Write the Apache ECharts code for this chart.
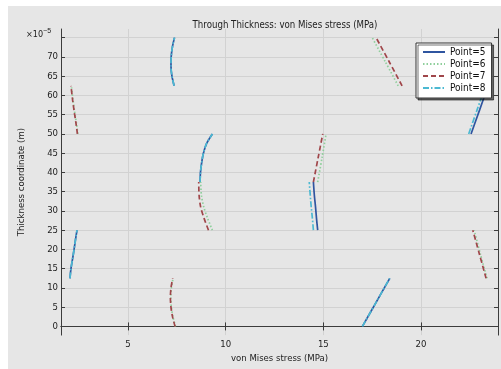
<!DOCTYPE html>
<html>
<head>
<meta charset="utf-8">
<script src="https://cdn.jsdelivr.net/npm/echarts@6/dist/echarts.min.js"></script>
<style>
  html, body { margin: 0; padding: 0; background: #ffffff; }
  #chart { width: 501px; height: 369px; }
</style>
</head>
<body>
<div id="chart"></div>
<script>
// tick values (axes)
const xTicks = [5, 10, 15, 20]
const yTicks = [0, 5, 10, 15, 20, 25, 30, 35, 40, 45, 50, 55, 60, 65, 70, 75]
const yLabels = [0, 5, 10, 15, 20, 25, 30, 35, 40, 45, 50, 55, 60, 65, 70]

// one curve per layer: [stress (MPa), thickness (1e-5 m)]
const point5 = [
  [[17.0, 0], [17.7, 6.25], [18.4, 12.5]],
  [[2.03, 12.5], [2.08, 15], [2.16, 17.5], [2.24, 20], [2.31, 22.5], [2.39, 25]],
  [[14.71, 25], [14.65, 28], [14.6, 31], [14.54, 34], [14.49, 37.5]],
  [[8.69, 37.5], [8.71, 40], [8.77, 42.5], [8.86, 45], [9.02, 47.5], [9.32, 50]],
  [[22.56, 50], [23.0, 56.25], [23.43, 62.5]],
  [[7.36, 62.5], [7.25, 65], [7.2, 67.5], [7.21, 70], [7.27, 72.5], [7.38, 75]]
]
const point6 = [
  [[7.43, 0], [7.3, 2.5], [7.22, 5], [7.19, 7.5], [7.22, 10], [7.31, 12.5]],
  [[23.38, 12.5], [23.04, 18.75], [22.72, 25]],
  [[9.32, 25], [9.08, 28], [8.88, 31], [8.76, 34], [8.72, 37.5]],
  [[14.71, 37.5], [14.93, 43.75], [15.14, 50]],
  [[2.43, 50], [2.35, 53], [2.26, 56], [2.18, 59], [2.1, 62.5]],
  [[18.83, 62.5], [18.17, 68.75], [17.5, 75]]
]
const point7 = [
  [[7.41, 0], [7.28, 2.5], [7.2, 5], [7.17, 7.5], [7.2, 10], [7.29, 12.5]],
  [[23.33, 12.5], [22.99, 18.75], [22.65, 25]],
  [[9.12, 25], [8.9, 28], [8.72, 31], [8.64, 34], [8.62, 37.5]],
  [[14.49, 37.5], [14.73, 43.75], [14.97, 50]],
  [[2.41, 50], [2.33, 53], [2.24, 56], [2.16, 59], [2.08, 62.5]],
  [[19.03, 62.5], [18.37, 68.75], [17.7, 75]]
]
const point8 = [
  [[17.0, 0], [17.7, 6.25], [18.4, 12.5]],
  [[2.03, 12.5], [2.08, 15], [2.16, 17.5], [2.24, 20], [2.31, 22.5], [2.39, 25]],
  [[14.49, 25], [14.44, 28], [14.38, 31], [14.33, 34], [14.28, 37.5]],
  [[8.69, 37.5], [8.71, 40], [8.77, 42.5], [8.86, 45], [9.02, 47.5], [9.32, 50]],
  [[22.44, 50], [22.87, 56.25], [23.3, 62.5]],
  [[7.36, 62.5], [7.25, 65], [7.2, 67.5], [7.21, 70], [7.27, 72.5], [7.38, 75]]
]

const FONT = 'DejaVu Sans Condensed, DejaVu Sans, sans-serif'

// join layer curves with an empty point so that they stay apart
function joinLayers (layers) {
  const out = []
  layers.forEach((seg, i) => {
    if (i > 0) out.push(['-', '-'])
    seg.forEach(p => out.push(p))
  })
  return out
}

function lineSeries (name, layers, color, type) {
  return {
    name,
    type: 'line',
    data: joinLayers(layers),
    showSymbol: false,
    symbol: 'none',
    smooth: 0.3,
    connectNulls: false,
    lineStyle: { color, width: 1.7, type },
    itemStyle: { color },
    emphasis: { disabled: true }
  }
}

const axisLineStyle = { lineStyle: { color: '#3c3c3c', width: 1 } }
const tickStyle = { inside: true, length: 4, lineStyle: { color: '#3c3c3c' } }

const chart = echarts.init(document.getElementById('chart'), null, { renderer: 'canvas' })
chart.setOption({
  animation: false,
  backgroundColor: '#ffffff',
  textStyle: { fontFamily: FONT },
  graphic: [
    { type: 'rect', z: -10, silent: true, shape: { x: 8, y: 6, width: 501, height: 369 }, style: { fill: '#e6e6e6' } },
    {
      type: 'text', left: 26, top: 28, z: 10,
      style: {
        text: '×10{s|−5}',
        font: '9px ' + FONT,
        fill: '#222',
        rich: { s: { fontSize: 7, verticalAlign: 'top', padding: [0, 0, 6, 0] } }
      }
    }
  ],
  title: {
    text: 'Through Thickness: von Mises stress (MPa)',
    left: 280,
    textAlign: 'center',
    top: 15,
    textStyle: { fontFamily: FONT, fontSize: 9.6, fontWeight: 'normal', color: '#222' }
  },
  legend: {
    left: 416,
    top: 43,
    orient: 'vertical',
    padding: [4, 6, 5, 6],
    itemGap: 2,
    itemWidth: 22,
    itemHeight: 10,
    itemStyle: { opacity: 0 },
    backgroundColor: '#ffffff',
    borderColor: '#333333',
    borderWidth: 1,
    shadowColor: 'rgba(0,0,0,0.55)',
    shadowBlur: 0,
    shadowOffsetX: 2,
    shadowOffsetY: 2,
    textStyle: { fontFamily: FONT, fontSize: 10, color: '#111' },
    data: ['Point=5', 'Point=6', 'Point=7', 'Point=8']
  },
  grid: { left: 61, top: 29, right: 3, bottom: 22, containLabel: false },
  xAxis: [
    {
      type: 'value', position: 'bottom', min: 1.57, max: 23.94,
      name: 'von Mises stress (MPa)', nameLocation: 'middle', nameGap: 13,
      nameTextStyle: { fontFamily: FONT, fontSize: 9.5, color: '#222' },
      axisLine: axisLineStyle,
      axisTick: Object.assign({ customValues: xTicks }, tickStyle),
      axisLabel: { customValues: xTicks, margin: 4, fontSize: 9.5, color: '#222', fontFamily: FONT },
      splitLine: { show: true, lineStyle: { color: '#d2d2d2', width: 1 } }
    },
    {
      type: 'value', position: 'top', min: 1.57, max: 23.94,
      axisLine: axisLineStyle,
      axisTick: Object.assign({ customValues: xTicks }, tickStyle),
      axisLabel: { show: false },
      splitLine: { show: false }
    }
  ],
  yAxis: [
    {
      type: 'value', position: 'left', min: -2.25, max: 77.25,
      name: 'Thickness coordinate (m)', nameLocation: 'middle', nameGap: 34,
      nameTextStyle: { fontFamily: FONT, fontSize: 9.5, color: '#222' },
      axisLine: axisLineStyle,
      axisTick: Object.assign({ customValues: yTicks }, tickStyle),
      axisLabel: { customValues: yLabels, margin: 3, fontSize: 9.5, color: '#222', fontFamily: FONT },
      splitLine: { show: true, lineStyle: { color: '#d2d2d2', width: 1 } }
    },
    {
      type: 'value', position: 'right', min: -2.25, max: 77.25,
      axisLine: axisLineStyle,
      axisTick: Object.assign({ customValues: yTicks }, tickStyle),
      axisLabel: { show: false },
      splitLine: { show: false }
    }
  ],
  series: [
    lineSeries('Point=5', point5, '#2f55a0', 'solid'),
    lineSeries('Point=6', point6, '#8fcf9c', [1.5, 2]),
    lineSeries('Point=7', point7, '#a0464a', [5, 3]),
    lineSeries('Point=8', point8, '#4cb9d2', [6, 2, 1.5, 2])
  ]
})
</script>
</body>
</html>
